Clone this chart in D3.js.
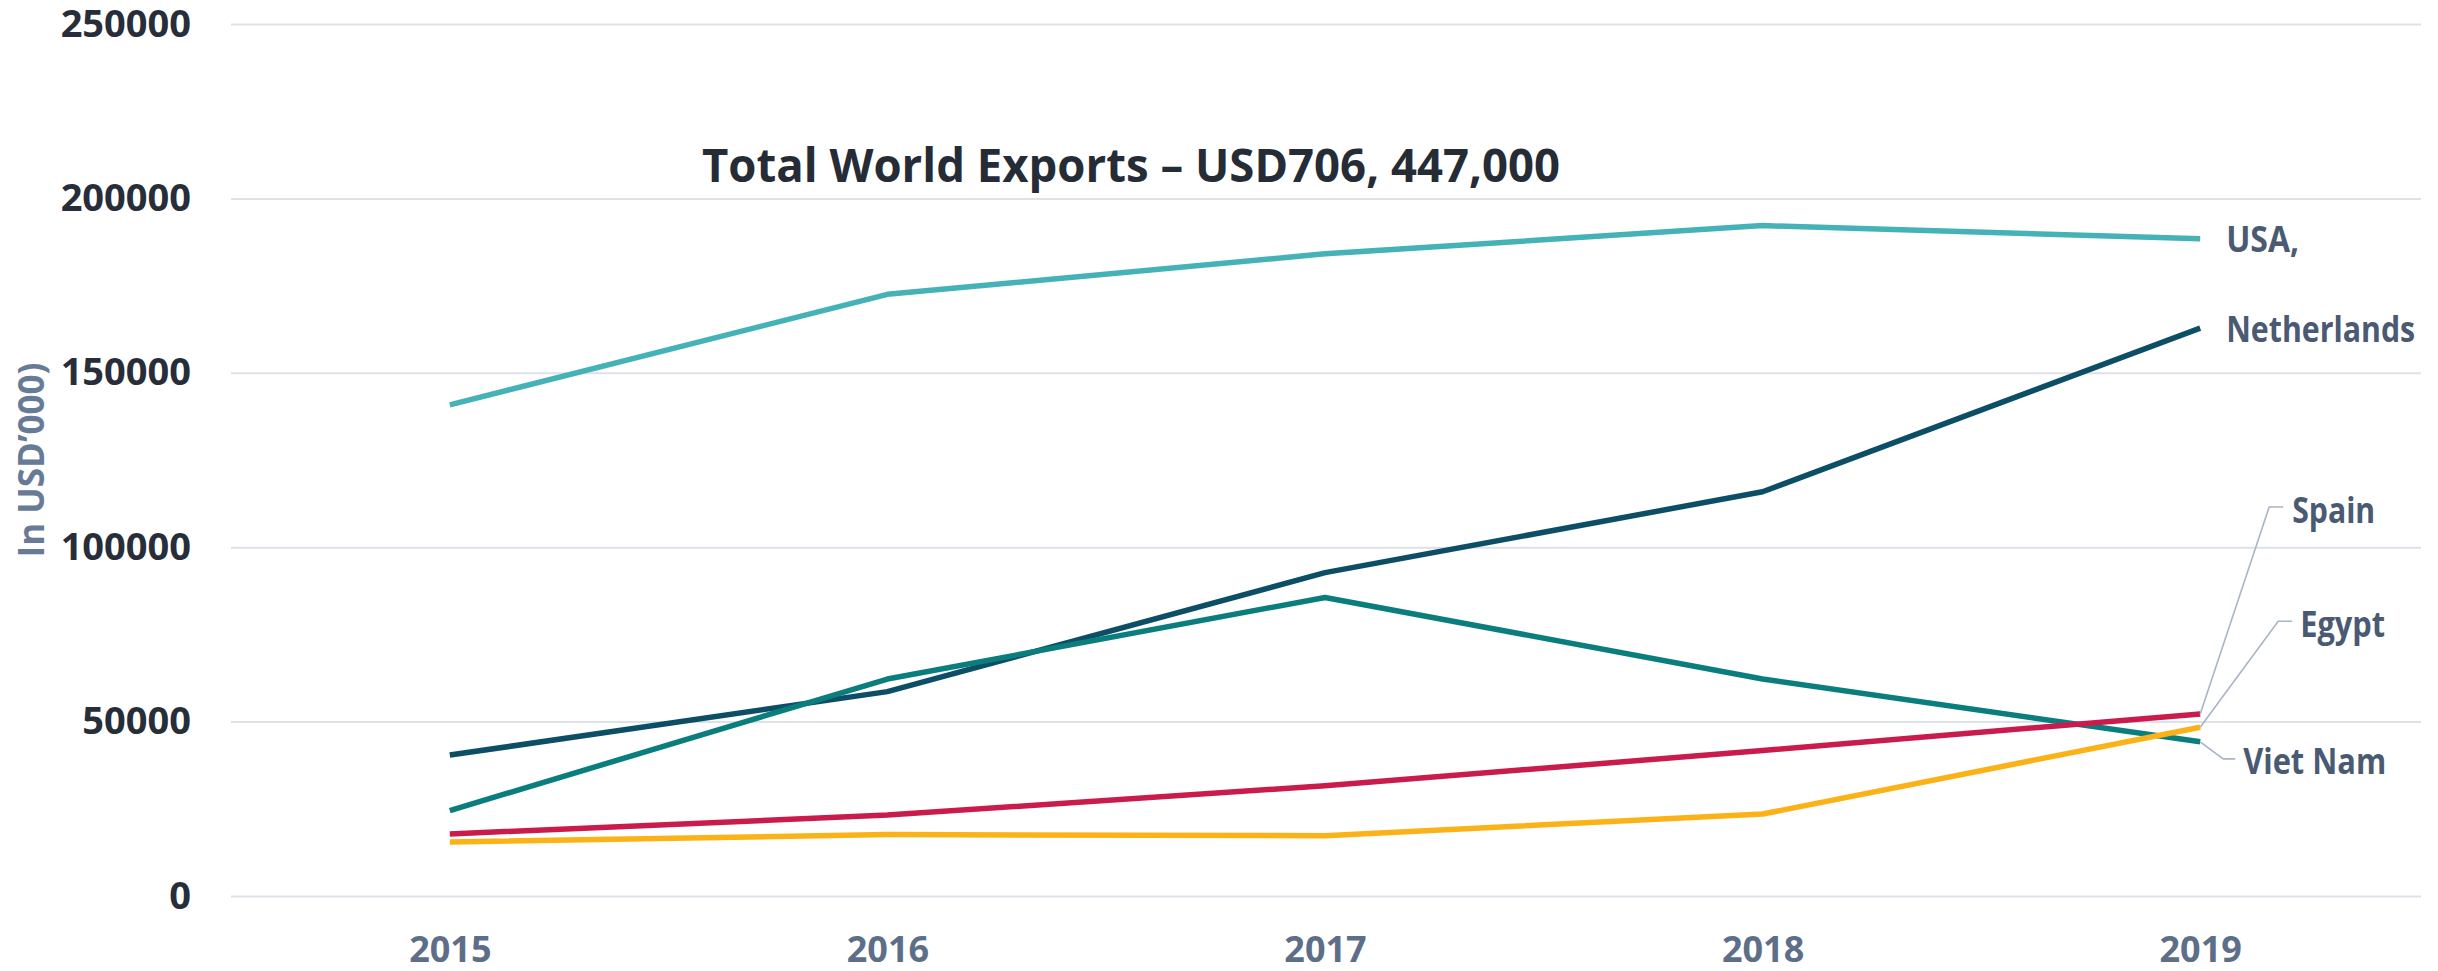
<!DOCTYPE html>
<html>
<head>
<meta charset="utf-8">
<script src="https://cdn.jsdelivr.net/npm/d3@7"></script>
<style>
  html, body { margin: 0; padding: 0; background: #fff; }
  svg { display: block; font-family: "Open Sans", "DejaVu Sans", sans-serif; }
</style>
</head>
<body>
<svg id="chart" width="2438" height="971"></svg>
<script>
var years = ["2015", "2016", "2017", "2018", "2019"];
var yTicks = [0, 50000, 100000, 150000, 200000, 250000];

var usa = [140800, 172500, 184100, 192200, 188400];
var netherlands = [40400, 58600, 92700, 115900, 162800];
var vietNam = [24500, 62200, 85600, 62200, 44200];
var spain = [17800, 23200, 31600, 41700, 52200];
var egypt = [15500, 17600, 17300, 23500, 48400];

var seriesNames = ["USA,", "Netherlands", "Viet Nam", "Spain", "Egypt"];
var seriesValues = [usa, netherlands, vietNam, spain, egypt];
var seriesColors = ["#45b2b7", "#0c4e66", "#0a7d7d", "#c91c4d", "#fbb217"];

var title = "Total World Exports \u2013 USD706, 447,000";
var yTitle = "In USD\u2019000)";

var svg = d3.select("#chart"),
    plotL = 231, plotR = 2419, plotT = 24, plotB = 896;

var x = d3.scalePoint().domain(years).range([plotL, plotR]).padding(0.5);
var y = d3.scaleLinear().domain([0, 250000]).range([plotB, plotT]);

// grid + y labels
var yAxis = svg.append("g")
    .attr("font-family", null)
    .attr("transform", "translate(" + plotL + ",0)")
    .call(d3.axisLeft(y).tickValues(yTicks).tickSize(-(plotR - plotL + 2)).tickPadding(40).tickFormat(d3.format("d")));
yAxis.attr("font-family", null).attr("font-size", null);
yAxis.select(".domain").remove();
yAxis.selectAll(".tick line").attr("stroke", "#dde1e8").attr("stroke-width", 2);
yAxis.selectAll(".tick text")
    .attr("fill", "#272e3a")
    .style("font-size", "38px")
    .style("font-weight", 700);

// x labels
var xAxis = svg.append("g")
    .attr("transform", "translate(0," + plotB + ")")
    .call(d3.axisBottom(x).tickSize(0).tickPadding(40));
xAxis.attr("font-family", null).attr("font-size", null);
xAxis.select(".domain").remove();
xAxis.selectAll(".tick text")
    .attr("fill", "#5d6e89")
    .style("font-size", "36px")
    .style("font-weight", 700);

// y title
svg.append("text")
    .attr("transform", "translate(30,460) rotate(-90)")
    .attr("text-anchor", "middle")
    .attr("dominant-baseline", "central")
    .attr("fill", "#677b97")
    .style("font-size", "35px")
    .style("font-weight", 700)
    .text(yTitle);

// chart title
svg.append("text")
    .attr("x", 1131)
    .attr("y", 182)
    .attr("text-anchor", "middle")
    .attr("fill", "#262c36")
    .attr("textLength", 858)
    .attr("lengthAdjust", "spacingAndGlyphs")
    .style("font-size", "47px")
    .style("font-weight", 700)
    .text(title);

var line = d3.line()
    .x(function(d, i) { return x(years[i]); })
    .y(function(d) { return y(d); });

svg.selectAll(".series")
    .data(seriesValues)
    .enter().append("path")
      .attr("class", "series")
      .attr("d", line)
      .attr("fill", "none")
      .attr("stroke", function(d, i) { return seriesColors[i]; })
      .attr("stroke-width", 5.5)
      .attr("stroke-linejoin", "round");

// end labels, offsets from the last point; some use leader lines
var labelOffsets = [
  { dx: 26, dy: 0, len: 73 },
  { dx: 26, dy: 0, len: 189 },
  { dx: 43, dy: 19, len: 143, leader: [[23, 17], [35, 17]] },
  { dx: 92, dy: -204, len: 83, leader: [[69, -207], [83, -207]] },
  { dx: 100, dy: -104, len: 85, leader: [[78, -106], [92, -106]] }
];

var last = years.length - 1;
seriesValues.forEach(function(vals, i) {
  var px = x(years[last]), py = y(vals[last]), o = labelOffsets[i];
  if (o.leader) {
    var pts = [[px, py]].concat(o.leader.map(function(p) { return [px + p[0], py + p[1]]; }));
    svg.append("path")
      .attr("d", d3.line()(pts))
      .attr("fill", "none")
      .attr("stroke", "#a9b4c4")
      .attr("stroke-width", 1.6);
  }
  svg.append("text")
    .attr("x", px + o.dx)
    .attr("y", py + o.dy)
    .attr("dominant-baseline", "central")
    .attr("fill", "#4b5a73")
    .attr("textLength", o.len)
    .attr("lengthAdjust", "spacingAndGlyphs")
    .style("font-size", "35px")
    .style("font-weight", 700)
    .text(seriesNames[i]);
});
</script>
</body>
</html>
